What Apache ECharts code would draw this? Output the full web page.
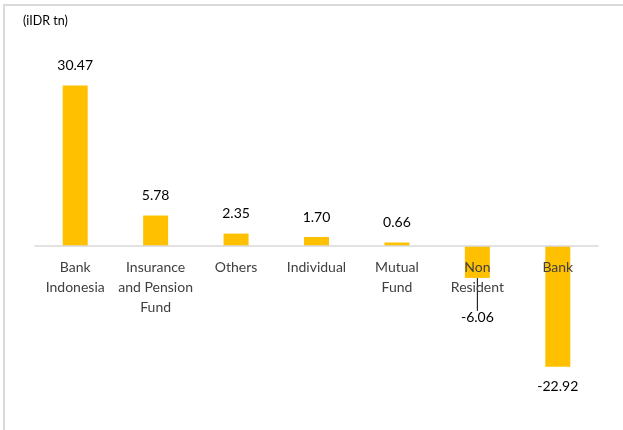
<!DOCTYPE html>
<html>
<head>
<meta charset="utf-8">
<script src="https://cdn.jsdelivr.net/npm/echarts@6/dist/echarts.min.js"></script>
<style>
html,body{margin:0;padding:0;background:#fff;}
#chart{width:623px;height:430px;}
</style>
</head>
<body>
<div id="chart"></div>
<script>
const categories = ['Bank\nIndonesia', 'Insurance\nand Pension\nFund', 'Others', 'Individual', 'Mutual\nFund', 'Non\nResident', 'Bank'];
const values = [30.47, 5.78, 2.35, 1.70, 0.66, -6.06, -22.92];
const unitLabel = '(iIDR tn)';

const FONT = 'Lato, "Open Sans", sans-serif';
const chart = echarts.init(document.getElementById('chart'));
const barData = values.map((v, i) => ({
  value: v,
  label: {position: v < 0 ? 'bottom' : 'top'},
  labelLine: {show: i === 5, lineStyle: {color: '#000', width: 1}}
}));
chart.setOption({
  animation: false,
  backgroundColor: '#fff',
  graphic: [
    {type: 'rect', shape: {x: 4, y: 5, width: 700, height: 500}, style: {fill: 'none', stroke: '#d9d9d9', lineWidth: 2}, z: -1},
    {type: 'text', left: 23, top: 14, style: {text: unitLabel, font: '12.5px ' + FONT, fill: '#000'}}
  ],
  grid: {left: 35, right: 25, top: 61.6, bottom: 26, containLabel: false, outerBoundsMode: 'none'},
  xAxis: {
    type: 'category',
    data: categories,
    z: 5,
    axisLine: {onZero: true, lineStyle: {color: '#d9d9d9', width: 1.5}},
    axisTick: {show: false},
    axisLabel: {color: '#404040', fontSize: 14, fontFamily: FONT, lineHeight: 20, margin: -147, interval: 0}
  },
  yAxis: {
    type: 'value', min: -30, max: 35, show: false, splitLine: {show: false}
  },
  series: [{
    type: 'bar',
    data: barData,
    barWidth: 25,
    itemStyle: {color: '#FFC000'},
    label: {
      show: true,
      distance: 13,
      color: '#000',
      fontSize: 14,
      fontFamily: FONT,
      formatter: p => p.value.toFixed(2)
    },
    labelLayout: function (p) {
      if (p.dataIndex === 5) return {dy: 20};
      return {};
    }
  }]
});
</script>
</body>
</html>
